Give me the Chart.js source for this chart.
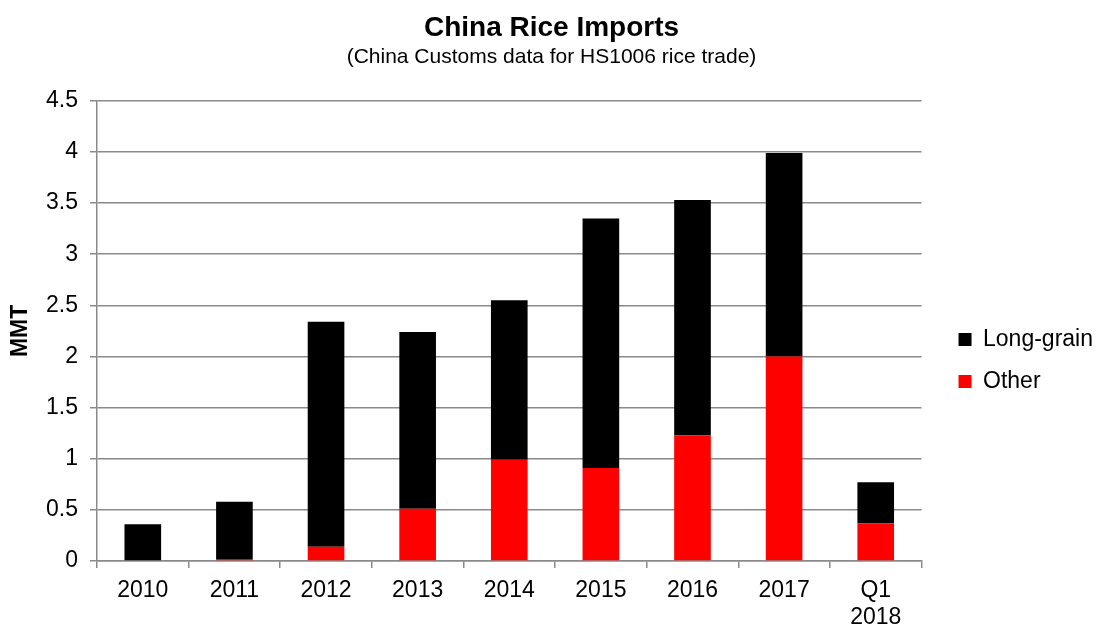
<!DOCTYPE html>
<html>
<head>
<meta charset="utf-8">
<title>China Rice Imports</title>
<script src="https://cdn.jsdelivr.net/npm/chart.js@4.4.1/dist/chart.umd.min.js"></script>
<style>
  html, body { margin: 0; padding: 0; background: #fff; }
  #wrap { width: 1098px; height: 625px; }
</style>
</head>
<body>
<div id="wrap"><canvas id="riceChart" width="1098" height="625"></canvas></div>
<script>
// values (million metric tons)
const years = ['2010', '2011', '2012', '2013', '2014', '2015', '2016', '2017', ['Q1', '2018']];
const longGrain = [0.36, 0.56, 2.20, 1.73, 1.56, 2.44, 2.30, 1.99, 0.40];
const other = [0.00, 0.02, 0.14, 0.51, 0.99, 0.91, 1.23, 2.00, 0.37];
const yTicks = [0, 0.5, 1, 1.5, 2, 2.5, 3, 3.5, 4, 4.5];

const gridGrey = '#8a8a8a';
const fontFamily = '"Liberation Sans", Arial, sans-serif';

Chart.defaults.font.family = fontFamily;
Chart.defaults.color = '#000';

const riceData = {
    labels: years,
    datasets: [
        {
            label: 'Other',
            data: other,
            backgroundColor: '#ff0000',
            borderWidth: 0
        },
        {
            label: 'Long-grain',
            data: longGrain,
            backgroundColor: '#000000',
            borderWidth: 0
        }
    ]
};

const riceConfig = {
    type: 'bar',
    data: riceData,
    options: {
        responsive: false,
        animation: false,
        layout: { padding: { left: 0, right: -5, top: 0, bottom: 0 } },
        datasets: {
            bar: { barPercentage: 0.4, categoryPercentage: 1.0 }
        },
        plugins: {
            title: {
                display: true,
                text: 'China Rice Imports',
                font: { size: 28, weight: 'bold' },
                color: '#000',
                padding: { top: 11, bottom: 0 }
            },
            subtitle: {
                display: true,
                text: '(China Customs data for HS1006 rice trade)',
                font: { size: 21 },
                color: '#000',
                padding: { top: 0, bottom: 31 }
            },
            legend: {
                position: 'right',
                fullSize: false,
                reverse: true,
                title: { display: true, text: ' ', font: { size: 10 }, padding: { top: 47, bottom: 0 } },
                labels: {
                    boxWidth: 13,
                    boxHeight: 13,
                    padding: 19,
                    font: { size: 23 },
                    color: '#000'
                }
            },
            tooltip: { enabled: false }
        },
        scales: {
            x: {
                stacked: true,
                afterFit: function (axis) { axis.height = 64; },
                grid: {
                    display: true,
                    drawOnChartArea: false,
                    drawTicks: true,
                    offset: true,
                    tickLength: 7,
                    color: gridGrey,
                    lineWidth: 1.5
                },
                border: { color: gridGrey, width: 1.5 },
                ticks: { font: { size: 23, lineHeight: 1.17 }, color: '#000', padding: 9, maxRotation: 0 }
            },
            y: {
                stacked: true,
                min: 0,
                max: 4.5,
                afterBuildTicks: function (axis) {
                    axis.ticks = yTicks.map(v => ({ value: v }));
                },
                afterFit: function (axis) { axis.width = 97; },
                grid: {
                    color: gridGrey,
                    lineWidth: 1.5,
                    drawTicks: true,
                    tickLength: 7
                },
                border: { color: gridGrey, width: 1.5 },
                ticks: {
                    font: { size: 23 },
                    color: '#000',
                    padding: 12,
                    callback: v => String(v)
                },
                title: {
                    display: true,
                    text: 'MMT',
                    font: { size: 23, weight: 'bold' },
                    color: '#000',
                    padding: { top: 7, bottom: 0 }
                }
            },
            // empty axis: keeps a gap between the plot and the legend
            gap: {
                type: 'linear',
                position: 'right',
                display: true,
                grid: { display: false, drawTicks: false },
                border: { display: false },
                ticks: { display: false },
                afterFit: function (axis) { axis.width = 18; }
            }
        }
    }
};

const riceChart = new Chart(
    document.getElementById('riceChart'),
    riceConfig
);
</script>
</body>
</html>
